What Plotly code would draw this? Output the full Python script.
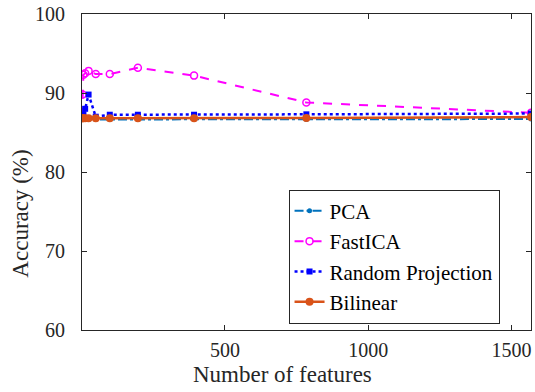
import plotly.graph_objects as go

features = [1, 3, 6, 12, 24, 49, 98, 196, 392, 784, 1568]
pca = [86.65, 86.65, 86.65, 86.65, 86.65, 86.65, 86.65, 86.65, 86.65, 86.65, 86.7]
fastica = [87.0, 89.8, 92.3, 92.5, 92.8, 92.4, 92.4, 93.2, 92.2, 88.8, 87.5]
random_proj = [86.8, 87.0, 87.3, 88.0, 89.8, 87.0, 87.25, 87.25, 87.25, 87.3, 87.4]
bilinear = [86.8, 86.8, 86.8, 86.8, 86.8, 86.8, 86.8, 86.8, 86.8, 86.85, 86.95]

y_ticks = [60, 70, 80, 90, 100]
x_ticks = [500, 1000, 1500]

FONT = "Times New Roman, Liberation Serif, Times, serif"
AX = "#262626"

fig = go.Figure()
fig.add_trace(go.Scatter(x=features, y=pca, name="PCA", mode="lines+markers",
                         line=dict(color="#0072BD", width=2, dash="dashdot"),
                         marker=dict(symbol="circle", size=5, color="#0072BD")))
fig.add_trace(go.Scatter(x=features, y=fastica, name="FastICA", mode="lines+markers",
                         line=dict(color="#FF00FF", width=2, dash="dash"),
                         marker=dict(symbol="circle-open", size=7, color="#FF00FF",
                                     line=dict(width=1.5, color="#FF00FF"))))
fig.add_trace(go.Scatter(x=features, y=random_proj, name="Random Projection", mode="lines+markers",
                         line=dict(color="#0000FF", width=2.5, dash="dot"),
                         marker=dict(symbol="square", size=6, color="#0000FF")))
fig.add_trace(go.Scatter(x=features, y=bilinear, name="Bilinear", mode="lines+markers",
                         line=dict(color="#D95319", width=2.5),
                         marker=dict(symbol="circle", size=8, color="#D95319")))

fig.update_layout(
    width=535, height=392,
    margin=dict(l=82, r=3, t=12, b=62),
    paper_bgcolor="white", plot_bgcolor="white",
    font=dict(family=FONT, size=20, color=AX),
    showlegend=True,
    legend=dict(x=0.46, y=0.02, xanchor="left", yanchor="bottom",
                bgcolor="white", bordercolor=AX, borderwidth=1,
                font=dict(family=FONT, size=21, color="black"),
                itemwidth=30, tracegroupgap=0),
    xaxis=dict(range=[1, 1568], tickvals=x_ticks, ticktext=[str(v) for v in x_ticks],
               showgrid=False, zeroline=False, showline=True, linecolor=AX, linewidth=1,
               mirror="allticks", ticks="inside", ticklen=5, tickcolor=AX,
               tickfont=dict(family=FONT, size=20, color=AX), ticklabelstandoff=2),
    yaxis=dict(range=[60, 100], tickvals=y_ticks, ticktext=[str(v) for v in y_ticks],
               showgrid=False, zeroline=False, showline=True, linecolor=AX, linewidth=1,
               mirror="allticks", ticks="inside", ticklen=5, tickcolor=AX,
               tickfont=dict(family=FONT, size=20, color=AX), ticklabelstandoff=12),
    annotations=[
        dict(text="Number of features", xref="paper", yref="paper", x=0.446, y=-0.1415,
             xanchor="center", yanchor="middle", showarrow=False,
             font=dict(family=FONT, size=23, color=AX)),
        dict(text="Accuracy (%)", xref="paper", yref="paper", x=-0.136, y=0.368,
             xanchor="center", yanchor="middle", showarrow=False, textangle=-90,
             font=dict(family=FONT, size=23, color=AX)),
    ],
)

fig.write_html("out.html", config={"displayModeBar": False},
               post_script="document.body.style.margin='0';")
